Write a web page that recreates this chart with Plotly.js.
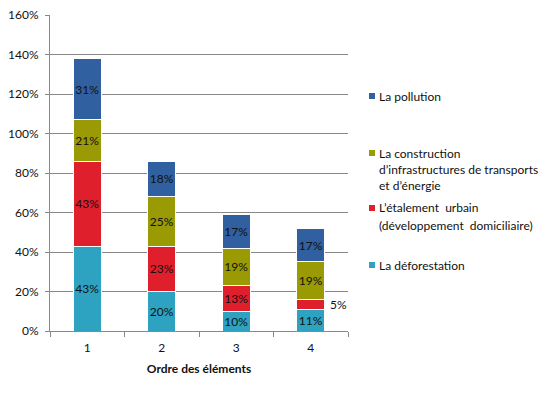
<!DOCTYPE html>
<html>
<head>
<meta charset="utf-8">
<script src="https://cdn.plot.ly/plotly-3.0.1.min.js"></script>
<style>html,body{margin:0;padding:0;background:#fff;}#chart{width:559px;height:393px;}</style>
</head>
<body>
<div id="chart"></div>
<script>
// ---- data ----
var categories = ['1', '2', '3', '4'];
var deforestation = [43, 20, 10, 11];
var etalement = [43, 23, 13, 5];
var construction = [21, 25, 19, 19];
var pollution = [31, 18, 17, 17];
var seriesNames = ['La déforestation', 'L\u2019étalement  urbain (développement  domiciliaire)', 'La construction d\u2019infrastructures de transports et d\u2019énergie', 'La pollution'];
var legendLines = [
  ['La déforestation'],
  ['L\u2019étalement  urbain', '(développement  domiciliaire)'],
  ['La construction', 'd\u2019infrastructures de transports', 'et d\u2019énergie'],
  ['La pollution']
];
var colors = ['#2EA3C1', '#E01F2C', '#9A9A04', '#30609F'];
var yTickSuffix = '%';
var xTitle = 'Ordre des éléments';

// ---- layout geometry ----
var L = 50, R = 348, T = 15, B = 331;
function px(x) { return (x - L) / (R - L); }
function py(y) { return (B - y) / (B - T); }

var font = 'Lato, "Open Sans", sans-serif';
var FS = 12;
var allSeries = [deforestation, etalement, construction, pollution];

var traces = allSeries.map(function (vals, i) {
  var txt = vals.map(function (v, j) {
    if (i === 1 && j === 3) return '';
    return v + '%';
  });
  return {
    type: 'bar',
    x: categories,
    y: vals,
    name: seriesNames[i],
    text: txt,
    textposition: 'inside',
    insidetextanchor: 'middle',
    textangle: 0,
    constraintext: 'none',
    textfont: {family: font, size: FS, color: '#111'},
    marker: {color: colors[i], line: {color: '#ffffff', width: 1}},
    hoverinfo: 'none',
    showlegend: false
  };
});

var annotations = [];
var shapes = [];

// outside label for the small segment (category index 3)
annotations.push({
  x: 3, y: deforestation[3] + etalement[3] / 2,
  xref: 'x', yref: 'y',
  text: etalement[3] + '%',
  showarrow: false, xanchor: 'left', yanchor: 'middle', xshift: 17,
  font: {family: font, size: FS, color: '#111'}
});

// legend drawn manually (reversed order as in reference)
var legendY = [[265], [208, 225], [153, 169, 185], [96]];
for (var i = 0; i < legendLines.length; i++) {
  var y0 = legendY[i][0];
  shapes.push({
    type: 'rect', xref: 'paper', yref: 'paper',
    x0: px(369), x1: px(375), y0: py(y0 + 3), y1: py(y0 - 3),
    fillcolor: colors[i], line: {width: 0}
  });
  for (var k = 0; k < legendLines[i].length; k++) {
    annotations.push({
      xref: 'paper', yref: 'paper',
      x: px(377), y: py(legendY[i][k]),
      text: legendLines[i][k],
      showarrow: false, xanchor: 'left', yanchor: 'middle',
      font: {family: font, size: FS, color: '#111'}
    });
  }
}

var layout = {
  width: 559, height: 393,
  margin: {l: L, r: 559 - R, t: T, b: 393 - B, pad: 0},
  barmode: 'stack',
  bargap: 0.62,
  paper_bgcolor: '#ffffff',
  plot_bgcolor: '#ffffff',
  font: {family: font, size: FS, color: '#111'},
  uniformtext: {mode: 'show', minsize: FS},
  showlegend: false,
  xaxis: {
    type: 'category',
    range: [-0.5, 3.5],
    tickson: 'boundaries',
    ticks: 'outside', ticklen: 5, tickcolor: '#888', tickwidth: 1,
    showline: true, linecolor: '#888', linewidth: 1,
    showgrid: false,
    ticklabelstandoff: 6,
    tickfont: {family: font, size: FS, color: '#111'},
    title: {text: '<b>' + xTitle + '</b>', font: {family: font, size: FS, color: '#111'}, standoff: 10}
  },
  yaxis: {
    range: [0, 160], dtick: 20, ticksuffix: yTickSuffix,
    ticks: 'outside', ticklen: 4, tickcolor: '#888', tickwidth: 1,
    showline: true, linecolor: '#888', linewidth: 1,
    showgrid: true, gridcolor: '#888', gridwidth: 1,
    zeroline: false,
    ticklabelstandoff: 4,
    tickfont: {family: font, size: FS, color: '#111'},
    fixedrange: true
  },
  annotations: annotations,
  shapes: shapes
};

Plotly.newPlot('chart', traces, layout, {staticPlot: true, displayModeBar: false});
</script>
</body>
</html>
